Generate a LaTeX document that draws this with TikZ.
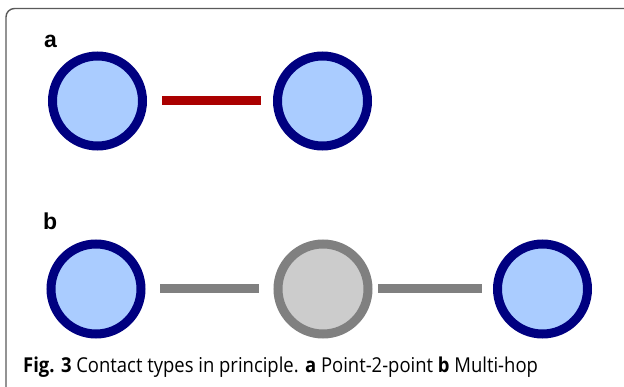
\documentclass[tikz,border=0pt]{standalone}
\usepackage{fontspec}
\setmainfont{Open Sans}[FakeStretch=0.9]
\newfontfamily\labelfont{Liberation Sans}
\definecolor{navyc}{HTML}{000080}
\definecolor{bluefill}{HTML}{AACCFF}
\definecolor{redc}{HTML}{AA0000}
\definecolor{grayc}{HTML}{808080}
\definecolor{grayfill}{HTML}{CCCCCC}
\definecolor{framec}{HTML}{5A5A5A}
\begin{document}
\begin{tikzpicture}[x=1pt,y=-1pt,
  peer/.style={circle,draw=navyc,fill=bluefill,line width=9pt,minimum size=90pt,inner sep=0pt},
  relay/.style={circle,draw=grayc,fill=grayfill,line width=9pt,minimum size=90pt,inner sep=0pt},
  directlink/.style={draw=redc,line width=9pt},
  hoplink/.style={draw=grayc,line width=9pt},
  panellabel/.style={font=\labelfont\bfseries\fontsize{23}{26}\selectfont,inner sep=0pt,anchor=base west}]
\useasboundingbox (0,0) rectangle (624,387);
\fill[white] (0,0) rectangle (624,387);
\draw[framec,line width=1.4pt,rounded corners=8.5pt] (6,400) -- (6,8.5) -- (640,8.5);
% panel a
\node[panellabel] (la) at (44,48) {a};
\node[peer] (a1) at (97.5,101) {};
\node[peer] (a2) at (322.5,101) {};
\draw[directlink] ([xshift=64.5pt]a1.center) -- ([xshift=-61.5pt]a2.center);
% panel b
\node[panellabel] (lb) at (43,230) {b};
\node[peer] (b1) at (96,289) {};
\node[relay] (b2) at (323,289) {};
\node[peer] (b3) at (542.5,289) {};
\draw[hoplink] ([xshift=64pt]b1.center) -- ([xshift=-64pt]b2.center);
\draw[hoplink] ([xshift=55pt]b2.center) -- ([xshift=-60.5pt]b3.center);
% caption
\node[anchor=base west,inner sep=0pt,font=\fontsize{20.5}{24}\selectfont] (cap) at (23,372)
  {\textbf{Fig. 3} Contact types in principle. \textbf{a} Point-2-point \textbf{b} Multi-hop};
\end{tikzpicture}
\end{document}
